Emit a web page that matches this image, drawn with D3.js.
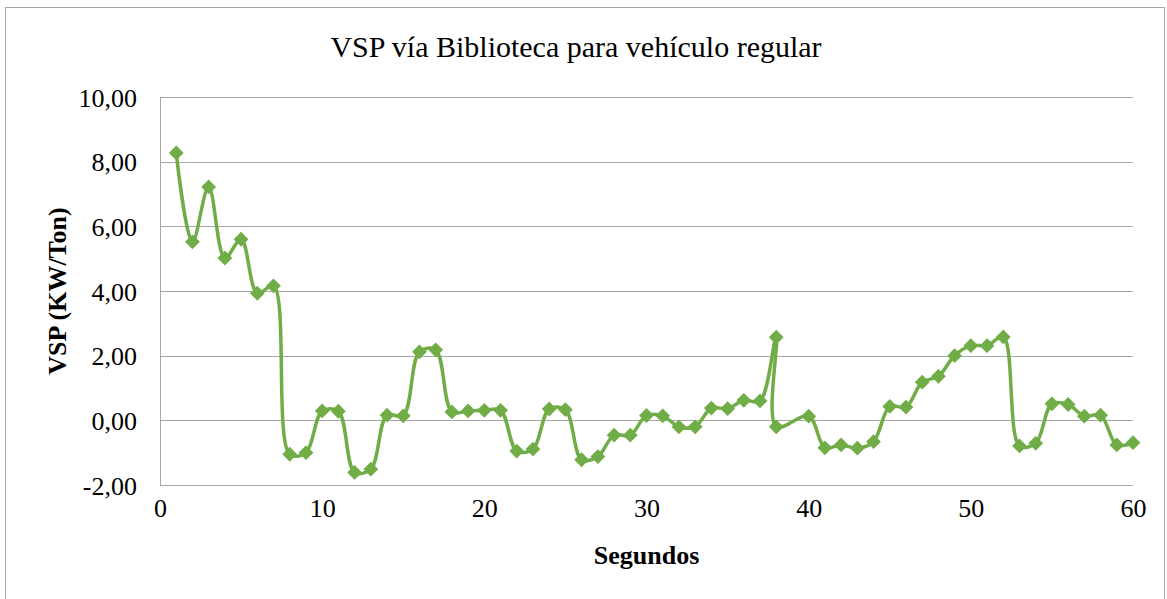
<!DOCTYPE html>
<html lang="es">
<head>
  <meta charset="UTF-8">
  <title>VSP vía Biblioteca</title>
  <script src="https://cdn.jsdelivr.net/npm/d3@7/dist/d3.min.js"></script>
  <style>
    html, body { margin: 0; padding: 0; background: #fff; }
    svg { display: block; font-family: "Liberation Serif", "Times New Roman", serif; }
    svg text { font-family: "Liberation Serif", "Times New Roman", serif; }
    .grid line { stroke: #a6a6a6; stroke-width: 1px; }
  </style>
</head>
<body>
  <svg width="1167" height="599"></svg>
  <script>
    // segundos (x = 38 aparece dos veces, falta 39)
    const segundos = [1,2,3,4,5,6,7,8,9,10,11,12,13,14,15,16,17,18,19,20,
                      21,22,23,24,25,26,27,28,29,30,31,32,33,34,35,36,37,38,38,40,
                      41,42,43,44,45,46,47,48,49,50,51,52,53,54,55,56,57,58,59,60];
    const vsp = [8.27, 5.52, 7.22, 5.02, 5.60, 3.93, 4.16, -1.05, -1.00, 0.29,
                 0.28, -1.61, -1.51, 0.16, 0.14, 2.12, 2.18, 0.26, 0.29, 0.31,
                 0.31, -0.95, -0.89, 0.35, 0.33, -1.22, -1.12, -0.46, -0.46, 0.15,
                 0.14, -0.20, -0.20, 0.38, 0.36, 0.62, 0.60, 2.57, -0.20, 0.13,
                 -0.85, -0.76, -0.86, -0.66, 0.43, 0.41, 1.18, 1.36, 2.00, 2.31,
                 2.31, 2.58, -0.79, -0.71, 0.51, 0.49, 0.13, 0.16, -0.76, -0.69];
    const xTicks = [0, 10, 20, 30, 40, 50, 60];
    const yTicks = [-2, 0, 2, 4, 6, 8, 10];

    const data = segundos.map((s, i) => ({ x: s, y: vsp[i] }));

    const svg = d3.select("svg");
    const plot = { left: 160, right: 1133, top: 97, bottom: 485 };
    const green = "#70ad47";

    // chart border
    svg.append("rect")
      .attr("x", 5.5).attr("y", 7.5).attr("width", 1159).attr("height", 600)
      .attr("fill", "none").attr("stroke", "#a6a6a6");

    const x = d3.scaleLinear().domain([0, 60]).range([plot.left, plot.right]);
    const y = d3.scaleLinear().domain([-2, 10]).range([plot.bottom, plot.top]);

    // horizontal gridlines
    svg.append("g").attr("class", "grid")
      .selectAll("line").data(yTicks).enter().append("line")
        .attr("x1", plot.left).attr("x2", plot.right)
        .attr("y1", d => Math.round(y(d)) + 0.5).attr("y2", d => Math.round(y(d)) + 0.5);

    // left axis line
    svg.append("line")
      .attr("x1", plot.left + 0.5).attr("x2", plot.left + 0.5)
      .attr("y1", plot.top).attr("y2", plot.bottom + 0.5)
      .attr("stroke", "#a6a6a6");

    const fmt = d => d.toFixed(2).replace(".", ",");
    const yAxis = svg.append("g")
      .attr("transform", `translate(${plot.left},0)`)
      .call(d3.axisLeft(y).tickValues(yTicks).tickFormat(fmt).tickSize(0).tickPadding(23));
    yAxis.select(".domain").remove();
    yAxis.selectAll("text").attr("dy", "0.35em");

    const xAxis = svg.append("g")
      .attr("transform", `translate(0,${plot.bottom})`)
      .call(d3.axisBottom(x).tickValues(xTicks).tickFormat(d3.format("d")).tickSize(0).tickPadding(14));
    xAxis.select(".domain").remove();

    // drop d3's default sans-serif / 10px on the axis groups
    [yAxis, xAxis].forEach(g => g.attr("font-family", null).attr("font-size", 26));
    svg.selectAll(".tick text").attr("fill", "#000");

    // series
    const line = d3.line()
      .x(d => x(d.x)).y(d => y(d.y))
      .curve(d3.curveCatmullRom.alpha(0.5));

    svg.append("path")
      .datum(data)
      .attr("d", line)
      .attr("fill", "none")
      .attr("stroke", green)
      .attr("stroke-width", 3.5)
      .attr("stroke-linejoin", "round");

    const diamond = d3.symbol().type(d3.symbolDiamond2).size(140);
    svg.append("g")
      .selectAll("path").data(data).enter().append("path")
        .attr("transform", d => `translate(${x(d.x)},${y(d.y)})`)
        .attr("d", diamond)
        .attr("fill", green);

    // titles
    svg.append("text")
      .attr("x", 576).attr("y", 57)
      .attr("text-anchor", "middle")
      .attr("font-size", 30)
      .text("VSP vía Biblioteca para vehículo regular");

    svg.append("text")
      .attr("x", (plot.left + plot.right) / 2).attr("y", 564)
      .attr("text-anchor", "middle")
      .attr("font-size", 26).attr("font-weight", "bold")
      .text("Segundos");

    svg.append("text")
      .attr("transform", `translate(66,${(plot.top + plot.bottom) / 2}) rotate(-90)`)
      .attr("text-anchor", "middle")
      .attr("font-size", 26).attr("font-weight", "bold")
      .text("VSP (KW/Ton)");
  </script>
</body>
</html>
